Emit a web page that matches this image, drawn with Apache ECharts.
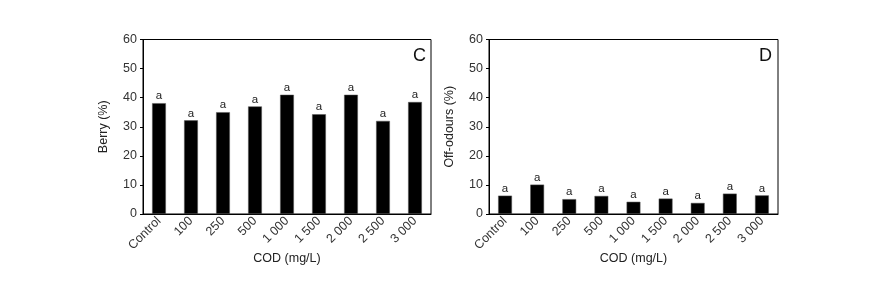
<!DOCTYPE html>
<html>
<head>
<meta charset="utf-8">
<script src="https://cdn.jsdelivr.net/npm/echarts@6/dist/echarts.min.js"></script>
<style>
html, body { margin: 0; padding: 0; background: #fff; }
#chart-container { width: 877px; height: 291px; }
</style>
</head>
<body>
<div id="chart-container"></div>
<script>
var categories = ['Control', '100', '250', '500', '1 000', '1 500', '2 000', '2 500', '3 000'];
var berryValues = [38.1, 32.2, 35, 37, 41, 34.3, 41, 32, 38.5];
var offOdourValues = [6.3, 10.1, 5.1, 6.2, 4.2, 5.3, 3.8, 7.0, 6.4];
var letters = ['a', 'a', 'a', 'a', 'a', 'a', 'a', 'a', 'a'];

var dom = document.getElementById('chart-container');
var myChart = echarts.init(dom, null, { renderer: 'canvas' });

var font = 'Liberation Sans, Arial, sans-serif';

function xAxisFor(idx) {
    return {
        type: 'category',
        gridIndex: idx,
        data: categories,
        name: 'COD (mg/L)',
        nameLocation: 'middle',
        nameGap: 38,
        nameMoveOverlap: false,
        nameTextStyle: { color: '#222', fontSize: 12.5, fontFamily: font, verticalAlign: 'top' },
        axisLine: { lineStyle: { color: '#000', width: 1 } },
        axisTick: { show: false },
        axisLabel: { rotate: 45, color: '#333', fontSize: 12.5, fontFamily: font, margin: 5, interval: 0 }
    };
}

function yAxisFor(idx, name) {
    return {
        type: 'value',
        gridIndex: idx,
        min: 0,
        max: 60,
        interval: 10,
        name: name,
        nameLocation: 'middle',
        nameGap: 33,
        nameTextStyle: { color: '#222', fontSize: 12.5, fontFamily: font },
        axisLine: { show: true, lineStyle: { color: '#000', width: 1 } },
        axisTick: { show: true, length: 3, lineStyle: { color: '#000' } },
        axisLabel: { color: '#333', fontSize: 12.5, fontFamily: font, margin: 6 },
        splitLine: { show: false }
    };
}

function seriesFor(idx, values) {
    return {
        type: 'bar',
        xAxisIndex: idx,
        yAxisIndex: idx,
        data: values,
        barWidth: '43%',
        itemStyle: { color: '#000', borderColor: '#555', borderWidth: 0.5 },
        label: {
            show: true,
            position: 'top',
            distance: 1,
            color: '#222',
            fontSize: 11.5,
            fontFamily: font,
            formatter: function (p) { return letters[p.dataIndex]; }
        }
    };
}

var option = {
    animation: false,
    grid: [
        { left: 143, right: 446, top: 39.5, bottom: 77, show: true, borderColor: '#000', borderWidth: 1 },
        { left: 489, right: 99, top: 39.5, bottom: 77, show: true, borderColor: '#000', borderWidth: 1 }
    ],
    xAxis: [xAxisFor(0), xAxisFor(1)],
    yAxis: [yAxisFor(0, 'Berry (%)'), yAxisFor(1, 'Off-odours (%)')],
    series: [seriesFor(0, berryValues), seriesFor(1, offOdourValues)],
    graphic: [
        { type: 'text', left: 413, top: 47, style: { text: 'C', fontSize: 18, fontFamily: font, fill: '#111' } },
        { type: 'text', left: 759, top: 47, style: { text: 'D', fontSize: 18, fontFamily: font, fill: '#111' } }
    ]
};

myChart.setOption(option);
window.addEventListener('resize', myChart.resize);
</script>
</body>
</html>
